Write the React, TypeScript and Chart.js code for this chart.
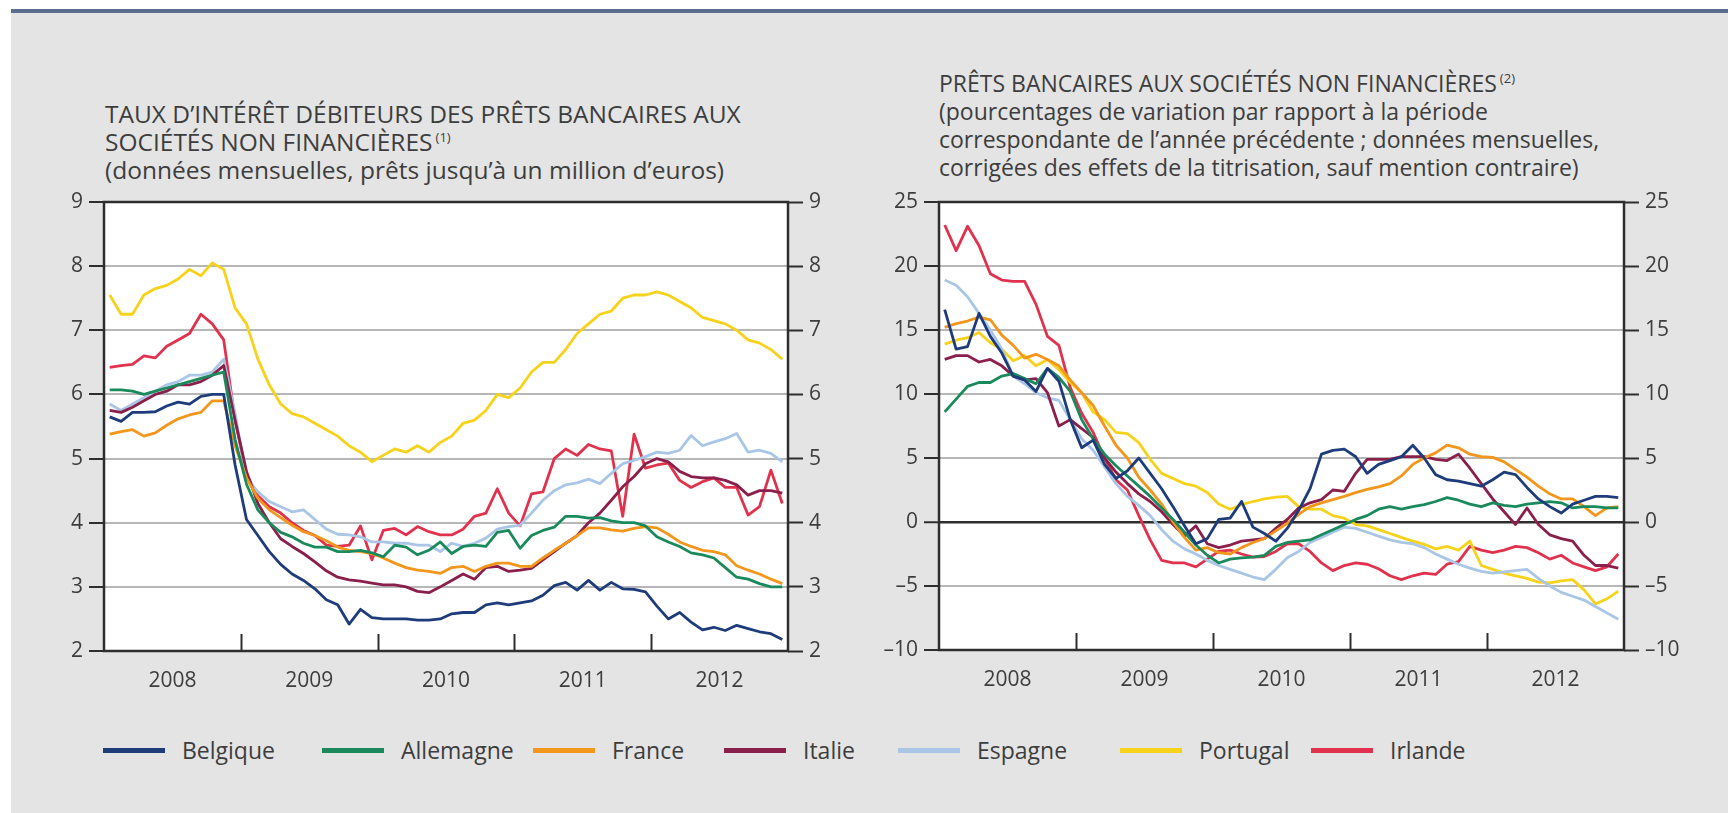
import React, { useEffect, useRef } from 'react';
import { Chart, registerables } from 'chart.js';

Chart.register(...registerables);

const MONTHS: string[] = [
  '2008-01','2008-02','2008-03','2008-04','2008-05','2008-06','2008-07','2008-08','2008-09','2008-10','2008-11','2008-12',
  '2009-01','2009-02','2009-03','2009-04','2009-05','2009-06','2009-07','2009-08','2009-09','2009-10','2009-11','2009-12',
  '2010-01','2010-02','2010-03','2010-04','2010-05','2010-06','2010-07','2010-08','2010-09','2010-10','2010-11','2010-12',
  '2011-01','2011-02','2011-03','2011-04','2011-05','2011-06','2011-07','2011-08','2011-09','2011-10','2011-11','2011-12',
  '2012-01','2012-02','2012-03','2012-04','2012-05','2012-06','2012-07','2012-08','2012-09','2012-10','2012-11','2012-12',
];
const YEARS: string[] = ['2008', '2009', '2010', '2011', '2012'];
const COUNTRIES: string[] = ['Belgique', 'Allemagne', 'France', 'Italie', 'Espagne', 'Portugal', 'Irlande'];
const COLORS: string[] = ['#1f3c7a', '#1a8a5c', '#f2961c', '#8a1f4c', '#a9c6e6', '#f6d31a', '#e0324d'];

// Left chart: interest rates (%)
const RATE_BELGIQUE = [5.65,5.58,5.72,5.72,5.73,5.82,5.88,5.85,5.97,6.0, 6.0,4.9,4.05,3.8,3.55,3.35,3.2,3.1,2.97,2.8, 2.72,2.42,2.65,2.52,2.5,2.5,2.5,2.48,2.48,2.5, 2.58,2.6,2.6,2.72,2.75,2.72,2.75,2.78,2.87,3.02, 3.07,2.95,3.1,2.95,3.07,2.97,2.96,2.92,2.7,2.5, 2.6,2.45,2.33,2.37,2.32,2.4,2.35,2.3,2.27,2.18];
const RATE_ALLEMAGNE = [6.07,6.07,6.05,6.0,6.05,6.1,6.15,6.2,6.25,6.3, 6.35,5.3,4.6,4.2,4.0,3.85,3.78,3.68,3.62,3.62, 3.55,3.55,3.57,3.53,3.47,3.65,3.62,3.5,3.57,3.7, 3.52,3.63,3.65,3.63,3.85,3.88,3.6,3.8,3.88,3.93, 4.1,4.1,4.07,4.08,4.03,4.0,4.0,3.95,3.78,3.7, 3.63,3.53,3.5,3.45,3.3,3.15,3.12,3.05,3.0,3.0];
const RATE_FRANCE = [5.38,5.42,5.45,5.35,5.4,5.52,5.62,5.68,5.72,5.9, 5.9,5.2,4.7,4.38,4.2,4.08,3.96,3.86,3.8,3.72, 3.62,3.57,3.55,3.52,3.45,3.37,3.3,3.26,3.24,3.21, 3.3,3.32,3.24,3.32,3.37,3.37,3.32,3.32,3.45,3.57, 3.68,3.8,3.92,3.92,3.89,3.87,3.91,3.94,3.92,3.82, 3.7,3.63,3.57,3.55,3.5,3.33,3.26,3.2,3.12,3.05];
const RATE_ITALIE = [5.75,5.72,5.8,5.9,6.0,6.05,6.15,6.15,6.2,6.3, 6.45,5.6,4.8,4.3,4.0,3.75,3.63,3.52,3.39,3.25, 3.15,3.11,3.09,3.06,3.03,3.03,3.0,2.93,2.91,3.0, 3.1,3.2,3.12,3.3,3.32,3.24,3.26,3.29,3.42,3.55, 3.68,3.8,4.0,4.15,4.35,4.56,4.72,4.92,5.0,4.95, 4.8,4.72,4.7,4.7,4.66,4.59,4.43,4.5,4.5,4.46];
const RATE_ESPAGNE = [5.85,5.75,5.85,5.95,6.05,6.15,6.2,6.3,6.3,6.35, 6.55,5.7,4.7,4.48,4.33,4.25,4.17,4.2,4.05,3.9, 3.82,3.81,3.78,3.7,3.7,3.68,3.68,3.65,3.65,3.55, 3.68,3.63,3.68,3.76,3.9,3.94,3.96,4.15,4.35,4.5, 4.59,4.62,4.68,4.61,4.77,4.92,4.97,5.03,5.1,5.08, 5.13,5.36,5.2,5.26,5.31,5.39,5.1,5.13,5.08,4.95];
const RATE_PORTUGAL = [7.55,7.25,7.25,7.55,7.65,7.7,7.8,7.95,7.85,8.05, 7.95,7.35,7.1,6.55,6.15,5.85,5.7,5.65,5.55,5.45, 5.35,5.2,5.1,4.95,5.05,5.15,5.1,5.2,5.1,5.25, 5.35,5.55,5.6,5.75,6.0,5.95,6.1,6.35,6.5,6.5, 6.7,6.95,7.1,7.25,7.3,7.5,7.55,7.55,7.6,7.55, 7.45,7.35,7.2,7.15,7.1,7.0,6.85,6.8,6.7,6.55];
const RATE_IRLANDE = [6.42,6.45,6.47,6.6,6.57,6.75,6.85,6.95,7.25,7.1, 6.85,5.6,4.75,4.42,4.25,4.15,4.0,3.88,3.8,3.65, 3.63,3.65,3.95,3.42,3.88,3.91,3.81,3.94,3.86,3.81, 3.81,3.9,4.1,4.15,4.53,4.15,3.95,4.45,4.48,5.0, 5.15,5.05,5.22,5.15,5.12,4.1,5.38,4.85,4.9,4.93, 4.66,4.55,4.64,4.7,4.55,4.55,4.12,4.25,4.82,4.3];

// Right chart: loan growth (%)
const LOAN_BELGIQUE = [16.6,13.5,13.7,16.3,14.5,13.2,11.4,11.1,10.2,12.0, 11.0,8.0,5.8,6.4,4.5,3.4,4.0,5.0,3.8,2.6, 1.2,-0.3,-1.7,-1.3,0.2,0.3,1.6,-0.4,-0.9,-1.5, -0.5,0.9,2.6,5.3,5.6,5.7,5.1,3.8,4.5,4.8, 5.1,6.0,5.0,3.7,3.3,3.2,3.0,2.8,3.3,3.9, 3.7,2.7,1.8,1.2,0.7,1.4,1.7,2.0,2.0,1.9];
const LOAN_ALLEMAGNE = [8.6,9.6,10.6,10.9,10.9,11.4,11.6,11.2,10.8,12.0, 11.3,10.2,8.0,6.5,5.3,4.4,3.6,2.8,2.0,1.1, 0.2,-0.8,-1.8,-2.6,-3.2,-2.9,-2.8,-2.75,-2.6,-1.9, -1.6,-1.5,-1.4,-1.0,-0.6,-0.2,0.2,0.5,1.0,1.2, 1.0,1.2,1.35,1.6,1.9,1.7,1.4,1.2,1.5,1.3, 1.2,1.4,1.5,1.6,1.5,1.1,1.2,1.2,1.1,1.1];
const LOAN_FRANCE = [15.2,15.5,15.7,16.0,15.8,14.6,13.8,12.8,13.1,12.7, 12.2,11.1,10.1,9.1,7.5,6.0,5.0,3.5,2.5,1.4, 0.0,-1.2,-2.2,-2.0,-2.4,-2.5,-2.0,-1.6,-1.3,-0.7, -0.1,0.6,1.2,1.5,1.75,2.0,2.3,2.55,2.75,3.0, 3.6,4.5,5.0,5.4,6.0,5.8,5.3,5.1,5.05,4.7, 4.1,3.5,2.8,2.2,1.8,1.8,1.2,0.5,1.1,1.2];
const LOAN_ITALIE = [12.7,13.0,13.0,12.5,12.7,12.2,11.4,11.1,11.2,10.1, 7.5,8.0,7.3,6.6,5.0,3.9,3.0,2.2,1.6,0.8, -0.2,-1.1,-0.3,-1.7,-2.0,-1.8,-1.5,-1.4,-1.3,-0.5, 0.2,1.1,1.5,1.75,2.5,2.4,3.8,4.9,4.9,4.9, 5.1,5.1,5.1,4.9,4.8,5.3,4.2,3.0,1.8,0.8, -0.2,1.1,-0.2,-1.0,-1.3,-1.5,-2.6,-3.4,-3.4,-3.6];
const LOAN_ESPAGNE = [18.9,18.5,17.6,16.3,15.0,13.5,11.4,10.8,10.1,9.7, 9.5,8.0,6.5,5.6,4.3,3.0,2.0,1.3,0.5,-0.6, -1.5,-2.1,-2.5,-3.0,-3.4,-3.7,-4.0,-4.3,-4.5,-3.7, -2.8,-2.3,-1.6,-1.2,-0.8,-0.4,-0.5,-0.8,-1.1,-1.4, -1.6,-1.7,-2.0,-2.5,-2.9,-3.3,-3.6,-3.85,-4.0,-3.9, -3.8,-3.7,-4.4,-5.0,-5.5,-5.8,-6.1,-6.6,-7.1,-7.6];
const LOAN_PORTUGAL = [13.9,14.2,14.4,14.8,14.0,13.5,12.6,13.0,12.2,12.7, 11.9,10.9,10.1,8.6,8.0,7.0,6.9,6.2,4.9,3.8, 3.4,3.0,2.8,2.3,1.4,1.0,1.35,1.6,1.8,1.95, 2.0,1.2,1.0,1.0,0.5,0.3,-0.2,-0.3,-0.6,-0.9, -1.2,-1.5,-1.75,-2.1,-1.9,-2.2,-1.5,-3.4,-3.7,-4.0, -4.2,-4.4,-4.7,-4.75,-4.6,-4.5,-5.3,-6.4,-6.0,-5.4];
const LOAN_IRLANDE = [23.2,21.2,23.1,21.6,19.4,18.9,18.8,18.8,17.0,14.5, 13.8,10.5,8.5,7.0,5.0,3.3,2.5,0.5,-1.4,-3.0, -3.2,-3.2,-3.5,-2.9,-2.3,-2.2,-2.5,-2.75,-2.7,-2.3, -1.7,-1.7,-2.3,-3.2,-3.8,-3.4,-3.2,-3.3,-3.65,-4.2, -4.5,-4.2,-4.0,-4.1,-3.3,-3.1,-1.9,-2.2,-2.4,-2.2, -1.9,-2.0,-2.4,-2.9,-2.6,-3.2,-3.5,-3.8,-3.5,-2.5];

const RATE_SERIES = [RATE_BELGIQUE, RATE_ALLEMAGNE, RATE_FRANCE, RATE_ITALIE, RATE_ESPAGNE, RATE_PORTUGAL, RATE_IRLANDE];
const LOAN_SERIES = [LOAN_BELGIQUE, LOAN_ALLEMAGNE, LOAN_FRANCE, LOAN_ITALIE, LOAN_ESPAGNE, LOAN_PORTUGAL, LOAN_IRLANDE];

const FONT = "'Open Sans', 'DejaVu Sans', sans-serif";
const AXIS_DARK = '#2e2e2e';
const GRID = '#b7b7b7';
const TEXT = '#3d3d3d';

const framePlugin = {
  id: 'frame',
  beforeDraw(chart: any) {
    const { ctx, chartArea: a } = chart;
    ctx.save();
    ctx.fillStyle = '#ffffff';
    ctx.fillRect(a.left, a.top, a.right - a.left, a.bottom - a.top);
    ctx.restore();
  },
  afterDatasetsDraw(chart: any) {
    const { ctx, chartArea: a, scales } = chart;
    ctx.save();
    ctx.strokeStyle = AXIS_DARK;
    ctx.lineWidth = 2.5;
    ctx.strokeRect(a.left, a.top, a.right - a.left, a.bottom - a.top);
    ctx.lineWidth = 2;
    const xs = scales.x;
    for (let k = 1; k < YEARS.length; k++) {
      const px = Math.round(xs.getPixelForValue(k * 12)) + 0.5;
      ctx.beginPath();
      ctx.moveTo(px, a.bottom);
      ctx.lineTo(px, a.bottom - 17);
      ctx.stroke();
    }
    ctx.restore();
  },
};

function fmtTick(v: number) {
  return v < 0 ? '\u2013' + Math.abs(v) : String(v);
}

function buildConfig(series: number[][], yMin: number, yMax: number, step: number): any {
  const yTicks = { stepSize: step, color: TEXT, font: { family: FONT, size: 21 }, padding: 6, callback: (v: any) => fmtTick(Number(v)) };
  return {
    type: 'line',
    data: {
      datasets: series.map((vals, si) => ({
        label: COUNTRIES[si],
        data: vals.map((v, i) => ({ x: MONTHS.indexOf(MONTHS[i]) + 0.5, y: v })),
        borderColor: COLORS[si],
        backgroundColor: COLORS[si],
        borderWidth: 2.8,
        pointRadius: 0,
        tension: 0,
        borderJoinStyle: 'round',
        fill: false,
      })),
    },
    options: {
      responsive: false,
      animation: false,
      devicePixelRatio: 1,
      layout: { padding: { top: 20, left: 0, right: 0, bottom: 0 } },
      plugins: { legend: { display: false }, tooltip: { enabled: false } },
      scales: {
        x: {
          type: 'linear',
          min: 0,
          max: MONTHS.length,
          afterBuildTicks: (s: any) => { s.ticks = YEARS.map((_, k) => ({ value: k * 12 + 6 })); },
          afterFit: (s: any) => { s.height = 60; },
          ticks: {
            autoSkip: false,
            maxRotation: 0,
            color: TEXT,
            font: { family: FONT, size: 21 },
            padding: 17,
            callback: (v: any) => YEARS[Math.round((Number(v) - 6) / 12)],
          },
          grid: { display: false, drawTicks: false },
          border: { display: false },
        },
        y: {
          type: 'linear',
          position: 'left',
          min: yMin,
          max: yMax,
          afterFit: (s: any) => { s.width = 64; },
          ticks: yTicks,
          grid: {
            color: (c: any) => (c.tick && c.tick.value === 0 ? AXIS_DARK : GRID),
            lineWidth: (c: any) => (c.tick && c.tick.value === 0 ? 2.5 : 2),
            tickColor: AXIS_DARK,
            tickLength: 15,
            tickWidth: 2,
            drawTicks: true,
          },
          border: { display: false },
        },
        y2: {
          type: 'linear',
          position: 'right',
          min: yMin,
          max: yMax,
          afterFit: (s: any) => { s.width = 64; },
          ticks: yTicks,
          grid: { drawOnChartArea: false, tickColor: AXIS_DARK, tickLength: 15, tickWidth: 2, drawTicks: true },
          border: { display: false },
        },
      },
    },
    plugins: [framePlugin],
  };
}

function ChartPanel(props: { left: number; top: number; width: number; height: number; series: number[][]; yMin: number; yMax: number; step: number }) {
  const ref = useRef<HTMLCanvasElement | null>(null);
  useEffect(() => {
    if (!ref.current) return;
    const chart = new Chart(ref.current, buildConfig(props.series, props.yMin, props.yMax, props.step));
    return () => chart.destroy();
  }, []);
  return (
    <canvas
      ref={ref}
      width={props.width}
      height={props.height}
      style={{ position: 'absolute', left: props.left, top: props.top, width: props.width, height: props.height }}
    />
  );
}

const LEGEND_POS = [103, 322, 533, 724, 898, 1120, 1311];

const titleStyle: React.CSSProperties = {
  position: 'absolute',
  fontFamily: FONT,
  color: TEXT,
  whiteSpace: 'nowrap',
};
const supStyle: React.CSSProperties = { fontSize: 13, verticalAlign: 'super', lineHeight: 0, marginLeft: 3 };

export default function App() {
  return (
    <div style={{ position: 'absolute', left: 0, top: 0, width: 1728, height: 813, background: '#ffffff', overflow: 'hidden' }}>
      <div style={{ position: 'absolute', left: 11, top: 9, width: 1717, height: 4, background: '#5a6e8b' }} />
      <div style={{ position: 'absolute', left: 11, top: 13, width: 1717, height: 800, background: '#e4e4e4' }} />

      <div style={{ ...titleStyle, left: 105, top: 100, fontSize: 24.5, lineHeight: '28px' }}>
        <div>TAUX D’INTÉRÊT DÉBITEURS DES PRÊTS BANCAIRES AUX</div>
        <div>SOCIÉTÉS NON FINANCIÈRES<span style={supStyle}>(1)</span></div>
        <div>(données mensuelles, prêts jusqu’à un million d’euros)</div>
      </div>
      <div style={{ ...titleStyle, left: 939, top: 69, fontSize: 23, lineHeight: '28px' }}>
        <div>PRÊTS BANCAIRES AUX SOCIÉTÉS NON FINANCIÈRES<span style={supStyle}>(2)</span></div>
        <div>(pourcentages de variation par rapport à la période</div>
        <div>correspondante de l’année précédente ; données mensuelles,</div>
        <div>corrigées des effets de la titrisation, sauf mention contraire)</div>
      </div>

      <ChartPanel left={40} top={182} width={812} height={529} series={RATE_SERIES} yMin={2} yMax={9} step={1} />
      <ChartPanel left={875} top={182} width={813} height={528} series={LOAN_SERIES} yMin={-10} yMax={25} step={5} />

      {COUNTRIES.map((name, i) => (
        <div key={name} style={{ position: 'absolute', left: LEGEND_POS[i], top: 733, height: 34, display: 'flex', alignItems: 'center' }}>
          <div style={{ width: 62, height: 5, background: COLORS[i] }} />
          <div style={{ marginLeft: 17, fontFamily: FONT, fontSize: 23, color: TEXT }}>{name}</div>
        </div>
      ))}
    </div>
  );
}
